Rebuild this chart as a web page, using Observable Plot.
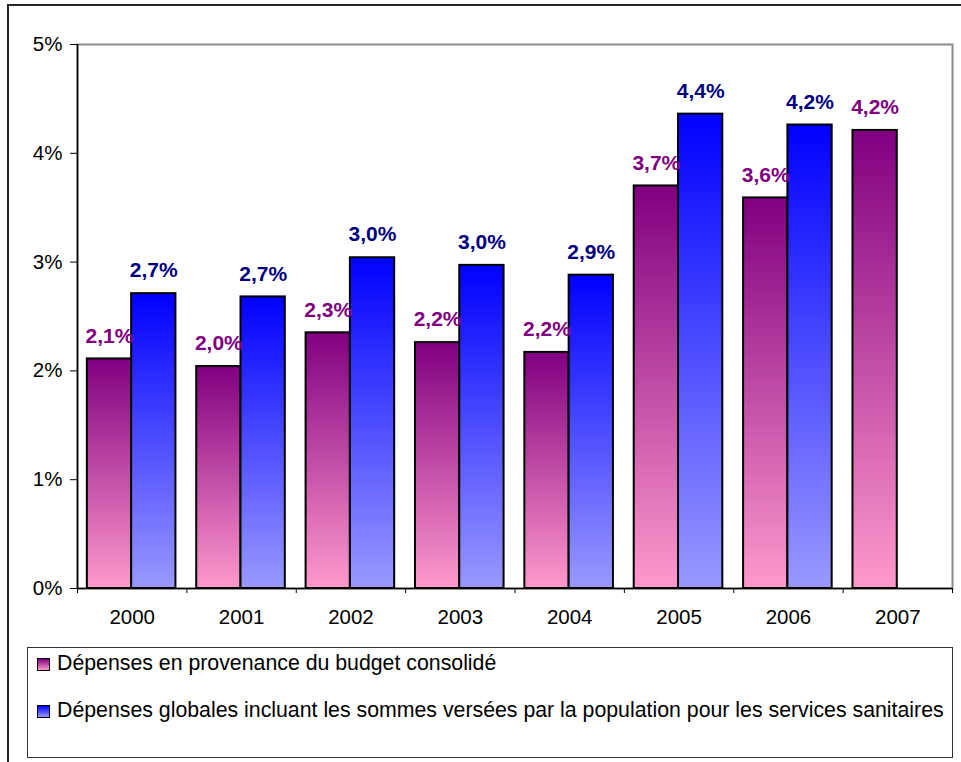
<!DOCTYPE html>
<html>
<head>
<meta charset="utf-8">
<script src="https://cdn.jsdelivr.net/npm/d3@7"></script>
<script src="https://cdn.jsdelivr.net/npm/@observablehq/plot@0.6"></script>
<style>
  html, body { margin: 0; padding: 0; background: #fff; }
  #wrap { position: relative; width: 961px; height: 762px; overflow: hidden; font-family: "Liberation Sans", Arial, sans-serif; }
  #outer { position: absolute; left: 7px; top: 4px; width: 980px; height: 800px; border-left: 2px solid #262626; border-top: 2px solid #262626; }
  #chart { position: absolute; left: 0; top: 0; }
  #legend { position: absolute; left: 27px; top: 647px; width: 924px; height: 109px; border: 1px solid #333; background: #fff; }
  .item { position: absolute; left: 9px; font-size: 21.3px; color: #000; white-space: nowrap; line-height: 24px; }
  .sw { display: inline-block; width: 11px; height: 11px; border: 1px solid #000; margin-right: 7px; vertical-align: -1px; }
</style>
</head>
<body>
<div id="wrap">
  <div id="outer"></div>
  <div id="chart"></div>
  <div id="legend"></div>
</div>
<script>
// ---- data ----
const years = ["2000", "2001", "2002", "2003", "2004", "2005", "2006", "2007"];
const budgetValues = [2.11, 2.04, 2.35, 2.26, 2.17, 3.70, 3.59, 4.21];
const globalValues = [2.71, 2.68, 3.04, 2.97, 2.88, 4.36, 4.26, null];
const budgetLabels = ["2,1%", "2,0%", "2,3%", "2,2%", "2,2%", "3,7%", "3,6%", "4,2%"];
const globalLabels = ["2,7%", "2,7%", "3,0%", "3,0%", "2,9%", "4,4%", "4,2%", null];
const yTicks = [0, 1, 2, 3, 4, 5];
const seriesNames = [
  "Dépenses en provenance du budget consolidé",
  "Dépenses globales incluant les sommes versées par la population pour les services sanitaires"
];

// ---- tables built from the arrays ----
const budgetRows = years.map((year, i) => ({i, year, value: budgetValues[i], label: budgetLabels[i]}));
const globalRows = years.map((year, i) => ({i, year, value: globalValues[i], label: globalLabels[i]}))
  .filter(d => d.value != null);

// bar layout within each category slot (fraction of the slot)
const gapOuter = 0.09, split = 0.495, rightEnd = 0.90;

const chart = Plot.plot({
  width: 961,
  height: 640,
  marginLeft: 77,
  marginRight: 9,
  marginTop: 44,
  marginBottom: 52,
  style: {fontFamily: "Liberation Sans, Arial, sans-serif", fontSize: "20px", color: "#000", background: "transparent", overflow: "visible"},
  x: {type: "linear", domain: [0, years.length], axis: null},
  y: {domain: [0, 5], axis: null},
  marks: [
    Plot.frame({stroke: "#8a8a8a", strokeWidth: 2}),
    Plot.rectY(budgetRows, {x1: d => d.i + gapOuter, x2: d => d.i + split, y1: 0, y2: "value", fill: "url(#gradBudget)", stroke: "#000", strokeWidth: 2}),
    Plot.rectY(globalRows, {x1: d => d.i + split, x2: d => d.i + rightEnd, y1: 0, y2: "value", fill: "url(#gradGlobal)", stroke: "#000", strokeWidth: 2}),
    Plot.ruleX([0], {stroke: "#000", strokeWidth: 1.5}),
    Plot.ruleY([0], {stroke: "#000", strokeWidth: 1.5}),
    Plot.axisY({ticks: yTicks, tickFormat: d => d + "%", tickSize: 7, tickPadding: 8, fontSize: 20.5, stroke: "#000", label: null}),
    Plot.axisX({ticks: d3.range(years.length + 1), tickFormat: () => "", tickSize: 5, stroke: "#000", label: null}),
    Plot.axisX({ticks: years.map((_, i) => i + 0.5), tickFormat: v => years[Math.floor(v)], tickSize: 0, tickPadding: 21, fontSize: 20.5, label: null}),
    Plot.text(budgetRows, {x: d => d.i + (gapOuter + split) / 2, y: "value", text: "label", dy: -23, fill: "#800080", fontWeight: "bold", fontSize: 21}),
    Plot.text(globalRows, {x: d => d.i + (split + rightEnd) / 2, y: "value", text: "label", dy: -23, fill: "#000080", fontWeight: "bold", fontSize: 21})
  ]
});

// gradient definitions referenced by the bar fills
const svg = d3.select(chart);
const defs = svg.insert("defs", ":first-child");
function grad(id, top, bottom) {
  const g = defs.append("linearGradient").attr("id", id).attr("x1", 0).attr("y1", 0).attr("x2", 0).attr("y2", 1);
  g.append("stop").attr("offset", "0%").attr("stop-color", top);
  g.append("stop").attr("offset", "100%").attr("stop-color", bottom);
}
grad("gradBudget", "#800080", "#ff99cc");
grad("gradGlobal", "#0000ff", "#9999ff");

document.getElementById("chart").appendChild(chart);

// legend
const legend = document.getElementById("legend");
const swatches = [
  "linear-gradient(#800080, #ff99cc)",
  "linear-gradient(#0000ff, #9999ff)"
];
const tops = [3, 50];
seriesNames.forEach((name, k) => {
  const item = document.createElement("div");
  item.className = "item";
  item.style.top = tops[k] + "px";
  const sw = document.createElement("span");
  sw.className = "sw";
  sw.style.background = swatches[k];
  item.appendChild(sw);
  item.appendChild(document.createTextNode(name));
  legend.appendChild(item);
});
</script>
</body>
</html>
